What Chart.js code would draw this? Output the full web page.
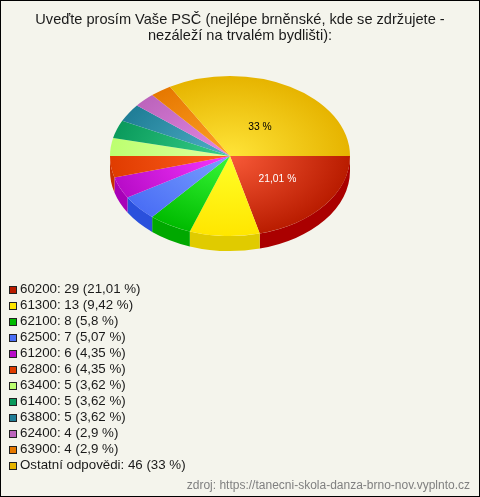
<!DOCTYPE html>
<html>
<head>
<meta charset="utf-8">
<script src="https://cdn.jsdelivr.net/npm/chart.js@4/dist/chart.umd.min.js"></script>
<style>
  html, body { margin: 0; padding: 0; background: #f4f4ec; }
  #wrap { position: relative; width: 480px; height: 497px; overflow: hidden; background: #f4f4ec; }
  #chart { position: absolute; left: 0; top: 0; }
  #frame { position: absolute; left: 0; top: 0; right: 0; bottom: 0; border: 1px solid #000; }
  #legend { position: absolute; left: 9px; top: 281px; font: 13.3px "Liberation Sans", Arial, sans-serif; color: #1a1a1a; }
  .row { height: 16px; line-height: 16px; white-space: nowrap; }
  .swatch { display: inline-block; box-sizing: border-box; width: 8px; height: 8px; margin-right: 3px; border: 1px solid #222; vertical-align: -0.5px; }
</style>
</head>
<body>
<div id="wrap">
  <canvas id="chart" width="480" height="497"></canvas>
  <div id="legend"></div>
  <div id="frame"></div>
</div>
<script>
const titleLines = ["Uveďte prosím Vaše PSČ (nejlépe brněnské, kde se zdržujete -", "nezáleží na trvalém bydlišti):"];
const sourceText = "zdroj: https://tanecni-skola-danza-brno-nov.vyplnto.cz";

const categories = ["60200", "61300", "62100", "62500", "61200", "62800", "63400", "61400", "63800", "62400", "63900", "Ostatní odpovědi"];
const counts = [29, 13, 8, 7, 6, 6, 5, 5, 5, 4, 4, 46];
const shares = ["21,01", "9,42", "5,8", "5,07", "4,35", "4,35", "3,62", "3,62", "3,62", "2,9", "2,9", "33"];

const rimColors = ["#b91c00", "#ffe600", "#00bb00", "#4a6ef5", "#b80cc8", "#e03c00", "#bcff70", "#0a9a5c", "#1f7d96", "#bc64bc", "#e67800", "#e6b400"];
const centreColors = ["#f85a38", "#ffff28", "#38f838", "#7aa0ff", "#f838ff", "#ff6020", "#e0ffa0", "#38d088", "#50b0c8", "#e488e4", "#ffa028", "#ffe438"];
const sideColors = ["#aa0000", "#e0cb00", "#00a800", "#2a50dc", "#a800b8", "#c83000", "#a8e060", "#088048", "#186878", "#a050a0", "#c86400", "#c89c00"];
const labelColors = ["#fff", "#000", "#000", "#000", "#000", "#000", "#000", "#000", "#000", "#000", "#000", "#000"];

const total = counts.reduce((a, b) => a + b, 0);

// the pie is squashed into an ellipse and pushed to where it sits in the picture
const pieX = 230;
const pieY = 156;
const pieRadius = 120;
const squash = 2 / 3;
const pieDepth = 15;

function sliceFill(context) {
  const area = context.chart.chartArea;
  if (!area) return rimColors[context.dataIndex];
  const cx = (area.left + area.right) / 2;
  const cy = (area.top + area.bottom) / 2;
  const g = context.chart.ctx.createRadialGradient(cx, cy, 0, cx, cy, pieRadius);
  g.addColorStop(0, centreColors[context.dataIndex]);
  g.addColorStop(1, rimColors[context.dataIndex]);
  return g;
}

const pie3d = {
  id: "pie3d",
  beforeDatasetDraw(chart) {
    const ctx = chart.ctx;
    const arcs = chart.getDatasetMeta(0).data;
    const x = arcs[0].x;
    const y = arcs[0].y;
    ctx.save();
    ctx.translate(pieX, pieY);
    ctx.scale(1, squash);
    ctx.translate(-x, -y);
    // side wall, only the front half can be seen
    const depth = pieDepth / squash;
    arcs.forEach((arc, i) => {
      const from = Math.max(arc.startAngle, 0);
      const to = Math.min(arc.endAngle, Math.PI);
      if (to <= from) return;
      ctx.beginPath();
      ctx.arc(x, y, arc.outerRadius, from, to);
      ctx.arc(x, y + depth, arc.outerRadius, to, from, true);
      ctx.closePath();
      ctx.fillStyle = sideColors[i];
      ctx.fill();
    });
  },
  afterDatasetDraw(chart) {
    const ctx = chart.ctx;
    ctx.restore();
    const arcs = chart.getDatasetMeta(0).data;
    ctx.save();
    ctx.font = '10.3px "Liberation Sans", Arial, sans-serif';
    ctx.textAlign = "center";
    ctx.textBaseline = "middle";
    arcs.forEach((arc, i) => {
      if (counts[i] / total < 0.1) return;
      const mid = (arc.startAngle + arc.endAngle) / 2;
      ctx.fillStyle = labelColors[i];
      ctx.fillText(shares[i] + " %",
        pieX + Math.cos(mid) * arc.outerRadius * 0.5,
        pieY + Math.sin(mid) * arc.outerRadius * 0.445 * squash + 1.5);
    });
    ctx.restore();
  }
};

new Chart(document.getElementById("chart"), {
  type: "pie",
  data: {
    labels: categories,
    datasets: [{
      data: counts,
      backgroundColor: sliceFill,
      borderWidth: 0,
      radius: pieRadius,
      clip: false
    }]
  },
  options: {
    responsive: false,
    animation: false,
    events: [],
    rotation: 90,
    layout: { padding: { left: 10, right: 10, top: 0, bottom: 4 } },
    plugins: {
      legend: { display: false },
      tooltip: { enabled: false },
      title: {
        display: true,
        text: titleLines,
        color: "#1a1a1a",
        font: { family: '"Liberation Sans", Arial, sans-serif', size: 14.6, weight: "normal", lineHeight: 1.1 },
        padding: { top: 12, bottom: 0 }
      },
      subtitle: {
        display: true,
        position: "bottom",
        align: "end",
        text: sourceText,
        color: "#808080",
        font: { family: '"Liberation Sans", Arial, sans-serif', size: 12, weight: "normal" },
        padding: { top: 0, bottom: 0 }
      }
    }
  },
  plugins: [pie3d]
});

const legend = document.getElementById("legend");
categories.forEach((name, i) => {
  const row = document.createElement("div");
  row.className = "row";
  const swatch = document.createElement("span");
  swatch.className = "swatch";
  swatch.style.background = rimColors[i];
  row.append(swatch, `${name}: ${counts[i]} (${shares[i]} %)`);
  legend.appendChild(row);
});
</script>
</body>
</html>
